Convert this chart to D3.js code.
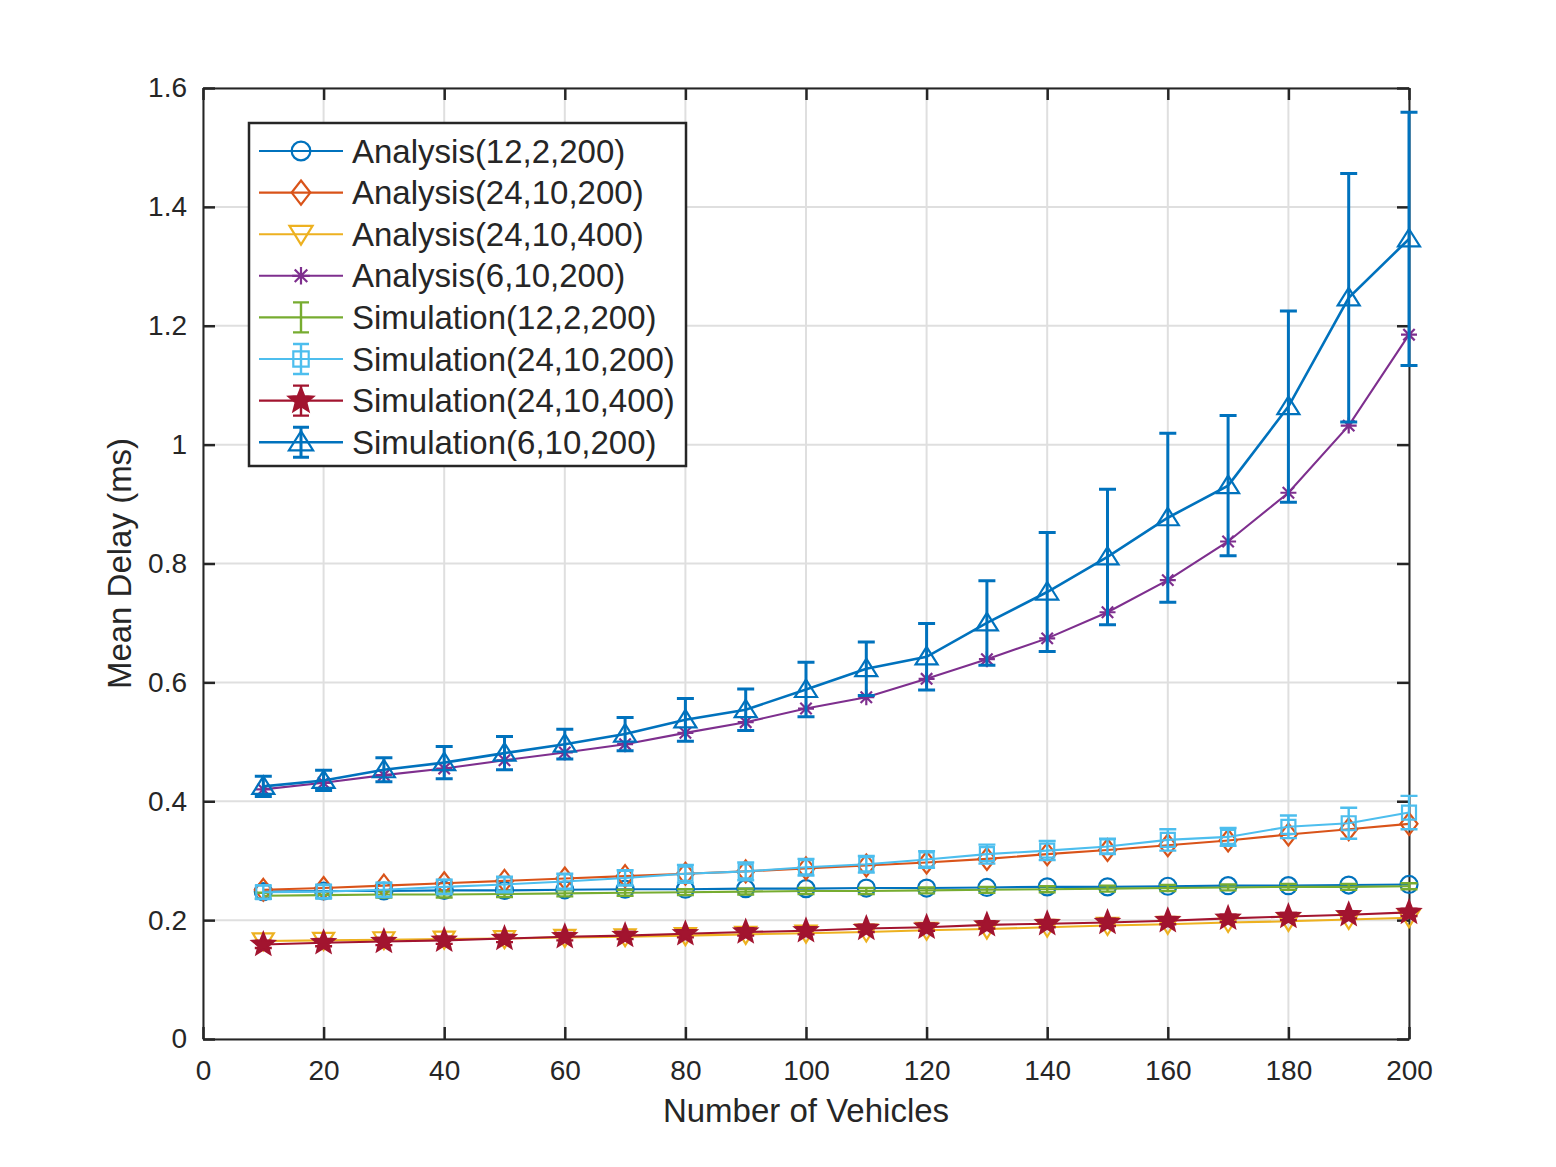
<!DOCTYPE html>
<html>
<head>
<meta charset="utf-8">
<script src="https://cdn.jsdelivr.net/npm/d3@7"></script>
<style>
  body { margin: 0; background: #fff; }
  text { font-family: "Liberation Sans", Arial, Helvetica, sans-serif; fill: #262626; }
</style>
</head>
<body>
<div id="chart"></div>
<script>
// ---- data ----
const vehicles = [10, 20, 30, 40, 50, 60, 70, 80, 90, 100, 110, 120, 130, 140, 150, 160, 170, 180, 190, 200];

const ana_12_2_200  = [0.248, 0.249, 0.249, 0.250, 0.250, 0.251, 0.252, 0.252, 0.253, 0.253, 0.254, 0.254, 0.255, 0.256, 0.256, 0.257, 0.258, 0.258, 0.259, 0.260];
const ana_24_10_200 = [0.251, 0.254, 0.258, 0.262, 0.266, 0.270, 0.274, 0.278, 0.282, 0.287, 0.292, 0.297, 0.303, 0.311, 0.318, 0.326, 0.334, 0.344, 0.353, 0.362];
const ana_24_10_400 = [0.165, 0.166, 0.167, 0.168, 0.169, 0.171, 0.172, 0.174, 0.176, 0.178, 0.180, 0.183, 0.185, 0.188, 0.191, 0.193, 0.196, 0.198, 0.201, 0.204];
const ana_6_10_200  = [0.420, 0.431, 0.444, 0.455, 0.469, 0.482, 0.496, 0.515, 0.533, 0.556, 0.575, 0.606, 0.639, 0.674, 0.718, 0.772, 0.837, 0.919, 1.032, 1.185];

const sim_12_2_200  = [0.241, 0.242, 0.243, 0.243, 0.244, 0.245, 0.246, 0.247, 0.248, 0.249, 0.249, 0.250, 0.251, 0.252, 0.253, 0.254, 0.255, 0.256, 0.256, 0.257];
const err_12_2_200  = [0.005, 0.005, 0.005, 0.005, 0.005, 0.005, 0.005, 0.005, 0.005, 0.005, 0.005, 0.005, 0.005, 0.005, 0.005, 0.005, 0.005, 0.005, 0.005, 0.005];
const sim_24_10_200 = [0.247, 0.248, 0.251, 0.256, 0.260, 0.265, 0.271, 0.278, 0.282, 0.289, 0.294, 0.302, 0.311, 0.317, 0.324, 0.335, 0.340, 0.357, 0.363, 0.381];
const err_24_10_200 = [0.011, 0.011, 0.012, 0.012, 0.013, 0.013, 0.013, 0.015, 0.015, 0.014, 0.014, 0.014, 0.016, 0.016, 0.013, 0.018, 0.015, 0.019, 0.026, 0.028];
const sim_24_10_400 = [0.159, 0.162, 0.164, 0.166, 0.169, 0.172, 0.174, 0.177, 0.180, 0.182, 0.186, 0.188, 0.192, 0.194, 0.196, 0.199, 0.203, 0.206, 0.209, 0.213];
const err_24_10_400 = [0.006, 0.006, 0.006, 0.006, 0.006, 0.006, 0.006, 0.006, 0.006, 0.006, 0.006, 0.006, 0.006, 0.006, 0.006, 0.006, 0.006, 0.006, 0.006, 0.006];
const sim_6_10_200  = [0.425, 0.435, 0.453, 0.465, 0.481, 0.496, 0.513, 0.537, 0.554, 0.588, 0.623, 0.643, 0.700, 0.752, 0.811, 0.877, 0.931, 1.064, 1.247, 1.346];
const err_6_10_200  = [0.017, 0.017, 0.020, 0.027, 0.028, 0.025, 0.028, 0.036, 0.035, 0.046, 0.045, 0.056, 0.071, 0.100, 0.114, 0.142, 0.118, 0.161, 0.209, 0.213];

const xTicks = [0, 20, 40, 60, 80, 100, 120, 140, 160, 180, 200];
const yTicks = [0, 0.2, 0.4, 0.6, 0.8, 1, 1.2, 1.4, 1.6];

// ---- series table ----
const series = [
  {name: "Analysis(12,2,200)",    y: ana_12_2_200,  color: "#0072BD", marker: "circle"},
  {name: "Analysis(24,10,200)",   y: ana_24_10_200, color: "#D95319", marker: "diamond"},
  {name: "Analysis(24,10,400)",   y: ana_24_10_400, color: "#EDB120", marker: "tridown"},
  {name: "Analysis(6,10,200)",    y: ana_6_10_200,  color: "#7E2F8E", marker: "asterisk"},
  {name: "Simulation(12,2,200)",  y: sim_12_2_200,  err: err_12_2_200,  color: "#77AC30", marker: "none"},
  {name: "Simulation(24,10,200)", y: sim_24_10_200, err: err_24_10_200, color: "#4DBEEE", marker: "square"},
  {name: "Simulation(24,10,400)", y: sim_24_10_400, err: err_24_10_400, color: "#A2142F", marker: "star"},
  {name: "Simulation(6,10,200)",  y: sim_6_10_200,  err: err_6_10_200,  color: "#0072BD", marker: "triup", width: 2.6}
];

const W = 1556, H = 1167;
const margin = {left: 203, right: W - 1409, top: 88, bottom: H - 1039};

const svg = d3.select("#chart").append("svg")
    .attr("width", W)
    .attr("height", H);

const x = d3.scaleLinear().domain([0, 200]).range([margin.left, W - margin.right]);
const y = d3.scaleLinear().domain([0, 1.6]).range([H - margin.bottom, margin.top]);

// marker paths centred on 0,0
function markerPath(kind) {
  switch (kind) {
    case "circle": { const r = 8.5; return `M${-r},0A${r},${r} 0 1,0 ${r},0A${r},${r} 0 1,0 ${-r},0Z`; }
    case "diamond": return "M0,-11L8.5,0L0,11L-8.5,0Z";
    case "triup": return "M0,-10L11,7.5L-11,7.5Z";
    case "tridown": return "M0,9.5L10.5,-7.5L-10.5,-7.5Z";
    case "square": return "M-7,-7H7V7H-7Z";
    case "asterisk": return "M-8,0H8M0,-8V8M-5.7,-5.7L5.7,5.7M-5.7,5.7L5.7,-5.7";
    case "star": {
      let p = [];
      for (let i = 0; i < 10; i++) {
        const r = i % 2 === 0 ? 11.5 : 5;
        const a = -Math.PI / 2 + i * Math.PI / 5;
        p.push([r * Math.cos(a), r * Math.sin(a)]);
      }
      return "M" + p.map(d => d.join(",")).join("L") + "Z";
    }
  }
  return null;
}

// grid
const grid = svg.append("g");
grid.selectAll(".gx").data(xTicks).enter().append("line")
    .attr("x1", d => x(d)).attr("x2", d => x(d))
    .attr("y1", y(0)).attr("y2", y(1.6))
    .attr("stroke", "#dfdfdf").attr("stroke-width", 2);
grid.selectAll(".gy").data(yTicks).enter().append("line")
    .attr("x1", x(0)).attr("x2", x(200))
    .attr("y1", d => y(d)).attr("y2", d => y(d))
    .attr("stroke", "#dfdfdf").attr("stroke-width", 2);

// axes (ticks inward, box on)
const fmt = d => d3.format("")(+d.toFixed(1));
const styleAxis = g => {
  g.select(".domain").attr("stroke", "#262626").attr("stroke-width", 2);
  g.selectAll(".tick line").attr("stroke", "#262626").attr("stroke-width", 2.5);
  g.selectAll(".tick text").attr("font-size", 28).attr("fill", "#262626")
      .attr("font-family", "'Liberation Sans', Arial, sans-serif");
};
svg.append("g").attr("transform", `translate(0,${y(0)})`)
    .call(d3.axisBottom(x).tickValues(xTicks).tickSize(-12).tickPadding(21).tickSizeOuter(0))
    .call(styleAxis);
svg.append("g").attr("transform", `translate(0,${y(1.6)})`)
    .call(d3.axisTop(x).tickValues(xTicks).tickSize(-12).tickFormat("").tickSizeOuter(0))
    .call(styleAxis);
svg.append("g").attr("transform", `translate(${x(0)},0)`)
    .call(d3.axisLeft(y).tickValues(yTicks).tickFormat(fmt).tickSize(-12).tickPadding(16).tickSizeOuter(0))
    .call(styleAxis);
svg.append("g").attr("transform", `translate(${x(200)},0)`)
    .call(d3.axisRight(y).tickValues(yTicks).tickFormat("").tickSize(-12).tickSizeOuter(0))
    .call(styleAxis);

// axis labels
svg.append("text")
    .attr("x", (x(0) + x(200)) / 2).attr("y", 1122)
    .attr("text-anchor", "middle").attr("font-size", 33)
    .text("Number of Vehicles");
svg.append("text")
    .attr("transform", `translate(131,${(y(0) + y(1.6)) / 2}) rotate(-90)`)
    .attr("text-anchor", "middle").attr("font-size", 33)
    .text("Mean Delay (ms)");

// series
const line = d3.line().x(d => x(d[0])).y(d => y(d[1]));
const capHalf = 8.5;

series.forEach(s => {
  const g = svg.append("g");
  const pts = vehicles.map((v, i) => [v, s.y[i], s.err ? s.err[i] : 0]);
  const sw = s.width || 2.1;

  g.append("path").datum(pts)
      .attr("d", line)
      .attr("fill", "none")
      .attr("stroke", s.color)
      .attr("stroke-width", sw);

  if (s.err) {
    g.selectAll(".eb").data(pts).enter().append("path")
        .attr("d", d => {
          const cx = x(d[0]), t = y(d[1] + d[2]), b = y(d[1] - d[2]);
          return `M${cx},${t}V${b}M${cx - capHalf},${t}H${cx + capHalf}M${cx - capHalf},${b}H${cx + capHalf}`;
        })
        .attr("fill", "none")
        .attr("stroke", s.color)
        .attr("stroke-width", s.width ? 3 : 2.4);
  }

  const mp = markerPath(s.marker);
  if (mp) {
    g.selectAll(".mk").data(pts).enter().append("path")
        .attr("transform", d => `translate(${x(d[0])},${y(d[1])})`)
        .attr("d", mp)
        .attr("fill", s.marker === "star" ? s.color : "none")
        .attr("stroke", s.color)
        .attr("stroke-width", 2.2);
  }
});

// legend
const lg = svg.append("g");
lg.append("rect")
    .attr("x", 249).attr("y", 123).attr("width", 437).attr("height", 343)
    .attr("fill", "#fff").attr("stroke", "#262626").attr("stroke-width", 2.5);

series.forEach((s, i) => {
  const cy = 151 + i * 41.6;
  const row = lg.append("g");
  row.append("line")
      .attr("x1", 259).attr("x2", 343).attr("y1", cy).attr("y2", cy)
      .attr("stroke", s.color).attr("stroke-width", s.width || 2.1);
  if (s.err) {
    row.append("path")
        .attr("d", `M301,${cy - 15}V${cy + 15}M293,${cy - 15}H309M293,${cy + 15}H309`)
        .attr("fill", "none").attr("stroke", s.color).attr("stroke-width", s.width ? 3 : 2.4);
  }
  const mp = markerPath(s.marker);
  if (mp) {
    row.append("path")
        .attr("transform", `translate(301,${cy}) scale(1.1)`)
        .attr("d", mp)
        .attr("fill", s.marker === "star" ? s.color : "none")
        .attr("stroke", s.color).attr("stroke-width", 2);
  }
  row.append("text")
      .attr("x", 352).attr("y", cy + 11.5)
      .attr("font-size", 33)
      .text(s.name);
});
</script>
</body>
</html>
